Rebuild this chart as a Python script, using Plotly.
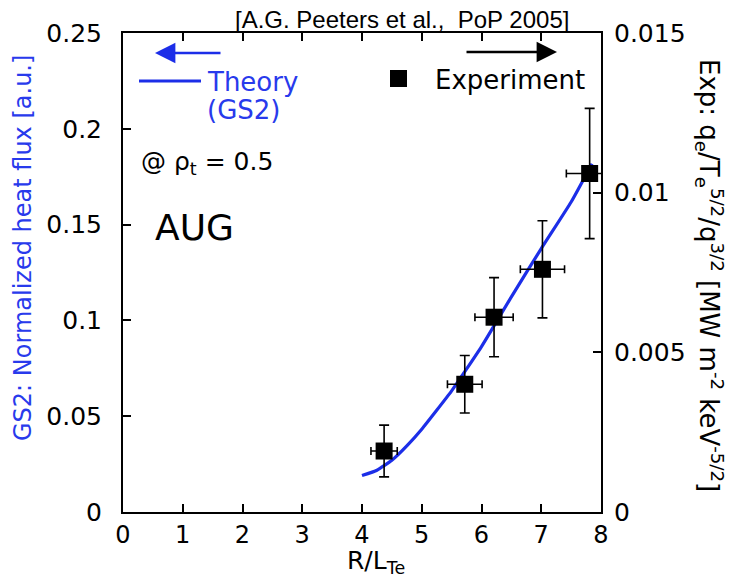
import plotly.graph_objects as go

# GS2 theory: normalized electron heat flux vs R/L_Te (left axis)
theory_rlt = [4.0, 4.25, 4.5, 4.75, 5.0, 5.5, 6.0, 6.5, 7.0, 7.5, 7.85]
theory_flux = [0.0190, 0.0218, 0.0270, 0.0345, 0.0432, 0.0632, 0.0863, 0.1123, 0.1375, 0.1618, 0.1818]

# AUG experiment at rho_t = 0.5 (right axis, MW m^-2 keV^-5/2)
exp_rlt = [4.37, 5.72, 6.21, 7.02, 7.81]
exp_rlt_err = [0.22, 0.29, 0.32, 0.37, 0.39]
exp_flux = [0.00191, 0.00400, 0.00610, 0.00760, 0.01060]
exp_flux_err = [0.00081, 0.00090, 0.00124, 0.00152, 0.00204]

x_ticks = [0, 1, 2, 3, 4, 5, 6, 7, 8]
left_ticks = [0, 0.05, 0.1, 0.15, 0.2, 0.25]
right_ticks = [0, 0.005, 0.01, 0.015]

W, H = 732, 579
L, R, T, B = 123, 131, 33, 67
PW, PH = W - L - R, H - T - B

BLUE = "rgb(28,46,232)"
TBLUE = "rgb(40,58,236)"
FONT = "DejaVu Sans"


def px(x):
    return (x - L) / PW


def py(y):
    return (H - B - y) / PH


def label(text, x, y, size, color="black", xanchor="center", angle=0, family=FONT):
    return dict(text=text, x=px(x), y=py(y), xref="paper", yref="paper",
                xanchor=xanchor, yanchor="middle", textangle=angle,
                showarrow=False, font=dict(family=family, size=size, color=color))


fig = go.Figure()

fig.add_trace(go.Scatter(
    x=theory_rlt, y=theory_flux, mode="lines",
    line=dict(color=BLUE, width=3.2, shape="spline", smoothing=0.4),
    yaxis="y", showlegend=False, hoverinfo="skip",
))

fig.add_trace(go.Scatter(
    x=exp_rlt, y=exp_flux, mode="markers",
    marker=dict(symbol="square", size=17, color="black"),
    error_x=dict(type="data", array=exp_rlt_err, color="black", thickness=1.6, width=4),
    error_y=dict(type="data", array=exp_flux_err, color="black", thickness=1.6, width=5),
    yaxis="y2", cliponaxis=False, showlegend=False, hoverinfo="skip",
))

axis_common = dict(
    ticks="inside", ticklen=8, tickwidth=2, tickcolor="black",
    showline=True, linewidth=2, linecolor="black",
    showgrid=False, zeroline=False,
    tickfont=dict(family=FONT, size=25, color="black"),
)

fig.update_layout(
    width=W, height=H,
    margin=dict(l=L, r=R, t=T, b=B),
    paper_bgcolor="white", plot_bgcolor="white",
    font=dict(family=FONT, color="black"),
    xaxis=dict(range=[0, 8], tickvals=x_ticks, mirror="ticks",
               ticklabelstandoff=0, **axis_common),
    yaxis=dict(range=[0, 0.25], tickvals=left_ticks, ticklabelstandoff=14,
               **axis_common),
    yaxis2=dict(range=[0, 0.015], tickvals=right_ticks, overlaying="y",
                side="right", ticklabelstandoff=6, **axis_common),
)
fig.update_xaxes(tickfont_size=24)

ann = [
    # axis titles
    label("R/L<sub>Te</sub>", 376, 562, 25),
    label("GS2: Normalized heat flux [a.u.]", 23, 248, 24, color=TBLUE, angle=-90),
    label("Exp: q<sub>e</sub>/T<sub>e</sub><sup>5/2</sup>/q<sup>3/2</sup> "
          "[MW m<sup>-2</sup> keV<sup>-5/2</sup>]", 710, 275, 26, angle=90),
    # citation
    label("[A.G. Peeters et al.,  PoP 2005]", 402, 19, 24, family="Liberation Sans"),
    # legend texts
    label("Theory", 205, 82, 26, color=TBLUE, xanchor="left"),
    label("(GS2)", 205, 110, 26, color=TBLUE, xanchor="left"),
    label("Experiment", 433, 80, 26, xanchor="left"),
    label("@ ρ<sub>t</sub> = 0.5", 139, 163, 25, xanchor="left"),
    label("AUG", 153, 228, 36, xanchor="left"),
    # axis-direction arrows (head at x/y, tail offset in pixels)
    dict(text="", x=px(155), y=py(53), xref="paper", yref="paper",
         ax=67, ay=0, axref="pixel", ayref="pixel",
         showarrow=True, arrowhead=2, arrowsize=1.7, arrowwidth=2.4,
         arrowcolor=BLUE),
    dict(text="", x=px(557), y=py(52), xref="paper", yref="paper",
         ax=-92, ay=0, axref="pixel", ayref="pixel",
         showarrow=True, arrowhead=2, arrowsize=1.7, arrowwidth=2.4,
         arrowcolor="black"),
]
fig.update_layout(annotations=ann)

# legend keys
fig.add_shape(type="line", xref="paper", yref="paper",
              x0=px(139), x1=px(201), y0=py(81), y1=py(81),
              line=dict(color=BLUE, width=3.2))
fig.add_shape(type="rect", xref="paper", yref="paper",
              x0=px(390), x1=px(407), y0=py(70), y1=py(87),
              fillcolor="black", line=dict(width=0))

fig.write_html("out.html")
